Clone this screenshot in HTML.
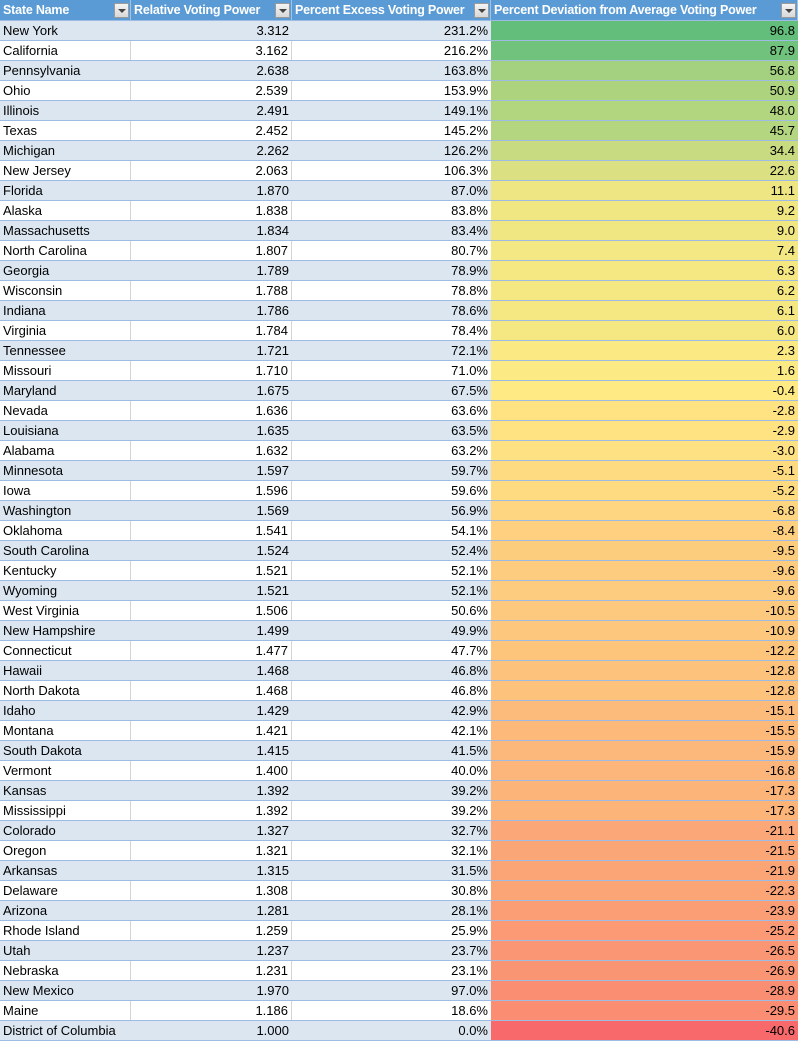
<!DOCTYPE html>
<html><head><meta charset="utf-8"><style>
body{margin:0;width:799px;height:1041px;background:#fff;overflow:hidden;font-family:"Liberation Sans",sans-serif;}
#t{position:absolute;left:0;top:0;width:799px;}
.r{position:absolute;left:0;width:798px;height:19px;border-bottom:1px solid #9dbbe3;}
.c{position:absolute;top:0;height:19px;line-height:20px;font-size:13px;color:#000;white-space:nowrap;overflow:hidden;box-sizing:border-box;}
.h{background:#5b9bd5;color:#fff;font-weight:bold;font-size:12.5px;letter-spacing:-0.2px;height:20px;line-height:21px;}
.fb{position:absolute;top:3px;width:15px;height:15px;background:linear-gradient(#f4f4f4,#d8d8d8);border:1px solid #9a9a9a;box-sizing:border-box;}
.fb:after{content:"";position:absolute;left:3px;top:5px;border-left:4px solid transparent;border-right:4px solid transparent;border-top:4px solid #444;}
</style></head><body><div id="t"></div>
<script>
var d=[["New York","3.312","231.2%","96.8"],["California","3.162","216.2%","87.9"],["Pennsylvania","2.638","163.8%","56.8"],["Ohio","2.539","153.9%","50.9"],["Illinois","2.491","149.1%","48.0"],["Texas","2.452","145.2%","45.7"],["Michigan","2.262","126.2%","34.4"],["New Jersey","2.063","106.3%","22.6"],["Florida","1.870","87.0%","11.1"],["Alaska","1.838","83.8%","9.2"],["Massachusetts","1.834","83.4%","9.0"],["North Carolina","1.807","80.7%","7.4"],["Georgia","1.789","78.9%","6.3"],["Wisconsin","1.788","78.8%","6.2"],["Indiana","1.786","78.6%","6.1"],["Virginia","1.784","78.4%","6.0"],["Tennessee","1.721","72.1%","2.3"],["Missouri","1.710","71.0%","1.6"],["Maryland","1.675","67.5%","-0.4"],["Nevada","1.636","63.6%","-2.8"],["Louisiana","1.635","63.5%","-2.9"],["Alabama","1.632","63.2%","-3.0"],["Minnesota","1.597","59.7%","-5.1"],["Iowa","1.596","59.6%","-5.2"],["Washington","1.569","56.9%","-6.8"],["Oklahoma","1.541","54.1%","-8.4"],["South Carolina","1.524","52.4%","-9.5"],["Kentucky","1.521","52.1%","-9.6"],["Wyoming","1.521","52.1%","-9.6"],["West Virginia","1.506","50.6%","-10.5"],["New Hampshire","1.499","49.9%","-10.9"],["Connecticut","1.477","47.7%","-12.2"],["Hawaii","1.468","46.8%","-12.8"],["North Dakota","1.468","46.8%","-12.8"],["Idaho","1.429","42.9%","-15.1"],["Montana","1.421","42.1%","-15.5"],["South Dakota","1.415","41.5%","-15.9"],["Vermont","1.400","40.0%","-16.8"],["Kansas","1.392","39.2%","-17.3"],["Mississippi","1.392","39.2%","-17.3"],["Colorado","1.327","32.7%","-21.1"],["Oregon","1.321","32.1%","-21.5"],["Arkansas","1.315","31.5%","-21.9"],["Delaware","1.308","30.8%","-22.3"],["Arizona","1.281","28.1%","-23.9"],["Rhode Island","1.259","25.9%","-25.2"],["Utah","1.237","23.7%","-26.5"],["Nebraska","1.231","23.1%","-26.9"],["New Mexico","1.970","97.0%","-28.9"],["Maine","1.186","18.6%","-29.5"],["District of Columbia","1.000","0.0%","-40.6"]];
var X=[0,131,292,491,798];
function col(v){var y=[255,235,132],e,t;if(v>=0){e=[99,190,123];t=v/96.8;}else{e=[248,105,107];t=v/-40.6;}return "rgb("+y.map(function(a,i){return Math.round(a+(e[i]-a)*t)}).join(",")+")";}
var h='<div class="r" style="top:0;height:20px;background:#5b9bd5">';
var hd=["State Name","Relative Voting Power","Percent Excess Voting Power","Percent Deviation from Average Voting Power"];
for(var j=0;j<4;j++){h+='<div class="c h" style="left:'+X[j]+'px;width:'+(X[j+1]-X[j])+'px;padding-left:3px;border-right:1px solid #9dc3e6">'+hd[j]+'</div><div class="fb" style="left:'+(X[j+1]-17)+'px"></div>';}
h+='</div>';
for(var i=0;i<d.length;i++){var bg=i%2==0?'#dce6f1':'#fff';h+='<div class="r" style="top:'+(21+i*20)+'px;background:'+bg+'">';
for(var j=0;j<4;j++){var st='left:'+X[j]+'px;width:'+(X[j+1]-X[j])+'px;';if(j==0)st+='padding-left:3px;';else st+='text-align:right;padding-right:3px;';
if(j==3)st+='background:'+col(parseFloat(d[i][3]))+';';
if(j<2&&i%2==1)st+='border-right:1px solid #d4d4d4;';
h+='<div class="c" style="'+st+'">'+d[i][j]+'</div>';}
h+='</div>';}
document.getElementById('t').innerHTML=h;
</script></body></html>
